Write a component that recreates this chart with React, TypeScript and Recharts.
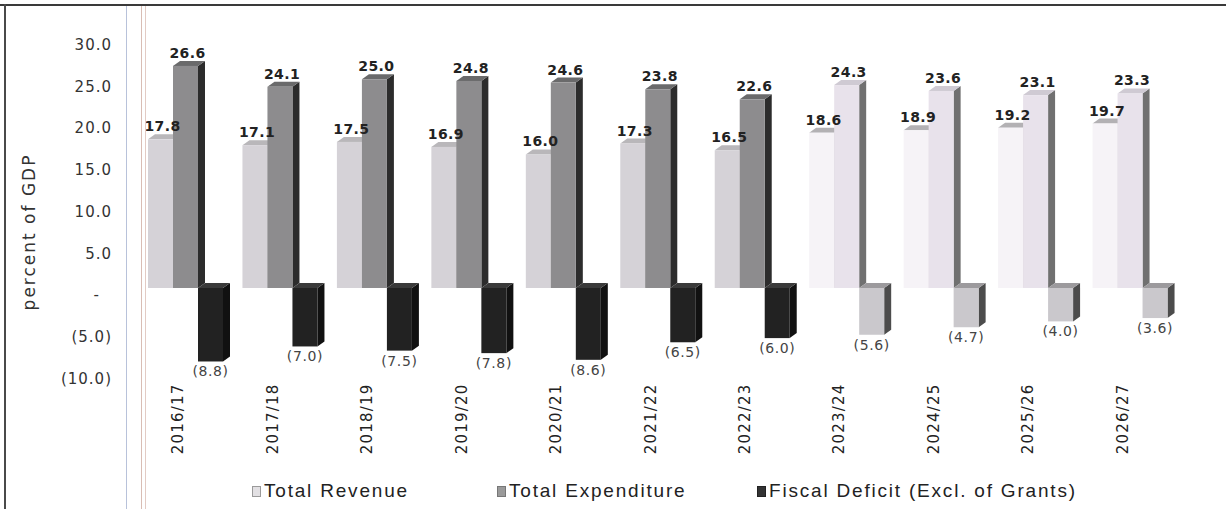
import React from 'react';
import { BarChart, Bar, XAxis, YAxis, LabelList } from 'recharts';

const years = ['2016/17', '2017/18', '2018/19', '2019/20', '2020/21', '2021/22', '2022/23', '2023/24', '2024/25', '2025/26', '2026/27'];
const totalRevenue = [17.8, 17.1, 17.5, 16.9, 16.0, 17.3, 16.5, 18.6, 18.9, 19.2, 19.7];
const totalExpenditure = [26.6, 24.1, 25.0, 24.8, 24.6, 23.8, 22.6, 24.3, 23.6, 23.1, 23.3];
const fiscalDeficit = [-8.8, -7.0, -7.5, -7.8, -8.6, -6.5, -6.0, -5.6, -4.7, -4.0, -3.6];
const projectedYears = ['2023/24', '2024/25', '2025/26', '2026/27'];
const yTicks = [-10, -5, 0, 5, 10, 15, 20, 25, 30];

const data = years.map((year, i) => ({
  year,
  revenue: totalRevenue[i],
  expenditure: totalExpenditure[i],
  deficit: fiscalDeficit[i],
  projected: projectedYears.includes(year),
}));

type Palette = { front: string; side: string; top: string };
const palettes: Record<string, { actual: Palette; projected: Palette }> = {
  revenue: {
    actual: { front: '#d5d2d7', side: '#a9a7aa', top: '#b9b7ba' },
    projected: { front: '#f6f3f7', side: '#c9c6ca', top: '#b3b1b4' },
  },
  expenditure: {
    actual: { front: '#8d8c8e', side: '#2c2c2c', top: '#6a6a6b' },
    projected: { front: '#e8e2eb', side: '#707070', top: '#cfcad3' },
  },
  deficit: {
    actual: { front: '#222222', side: '#111111', top: '#3a3a3a' },
    projected: { front: '#cac8cc', side: '#4c4c4c', top: '#9c9a9d' },
  },
};

const DX = 7;
const DY = 5;

const FONT = '"DejaVu Sans", Verdana, sans-serif';

function makeShape(series: string) {
  return (props: any) => {
    const { x, y, width, height, payload } = props;
    if (x == null || y == null) return null;
    const pal = payload && payload.projected ? palettes[series].projected : palettes[series].actual;
    const top = Math.min(y, y + height);
    const h = Math.abs(height);
    const right = x + width;
    return (
      <g>
        <polygon
          points={`${right},${top} ${right + DX},${top - DY} ${right + DX},${top + h - DY} ${right},${top + h}`}
          fill={pal.side}
        />
        <polygon
          points={`${x},${top} ${x + DX},${top - DY} ${right + DX},${top - DY} ${right},${top}`}
          fill={pal.top}
        />
        <rect x={x} y={top} width={width} height={h} fill={pal.front} />
      </g>
    );
  };
}

const fmt = (v: number) => (v === 0 ? '-' : v < 0 ? `(${Math.abs(v).toFixed(1)})` : v.toFixed(1));

const topLabel = (props: any) => {
  const vb = props.viewBox || props;
  const x = vb.x ?? props.x;
  const y = vb.y ?? props.y;
  const w = vb.width ?? props.width;
  const h = vb.height ?? props.height;
  const top = Math.min(y, y + h);
  return (
    <text
      x={x + w / 2 + 2}
      y={top - DY - 3}
      textAnchor="middle"
      fontFamily={FONT}
      fontWeight={700}
      fontSize={14}
      letterSpacing={0.4}
      fill="#222"
    >
      {fmt(Number(props.value))}
    </text>
  );
};

const bottomLabel = (props: any) => {
  const vb = props.viewBox || props;
  const x = vb.x ?? props.x;
  const y = vb.y ?? props.y;
  const w = vb.width ?? props.width;
  const h = vb.height ?? props.height;
  const bottom = Math.max(y, y + h);
  return (
    <text
      x={x + w / 2}
      y={bottom + 15}
      textAnchor="middle"
      fontFamily={FONT}
      fontSize={14}
      letterSpacing={0.6}
      fill="#444"
    >
      {fmt(Number(props.value))}
    </text>
  );
};

const YTick = (props: any) => {
  const { x, y, payload } = props;
  const v = payload.value as number;
  return (
    <text
      x={v === 0 ? x - 12 : x}
      y={y + 7}
      dy="0.355em"
      textAnchor="end"
      fontFamily={FONT}
      fontSize={15}
      letterSpacing={1}
      fill="#333"
    >
      {fmt(v)}
    </text>
  );
};

const XTick = (props: any) => {
  const { x, y, payload } = props;
  return (
    <text
      x={0}
      y={0}
      transform={`translate(${x - 2},${y + 12}) rotate(-90)`}
      textAnchor="end"
      fontFamily={FONT}
      fontSize={15}
      letterSpacing={1.2}
      fill="#222"
    >
      {payload.value}
    </text>
  );
};

const yLabel = (props: any) => {
  const cx = 35;
  const cy = 232;
  return (
    <text
      x={cx}
      y={cy}
      transform={`rotate(-90, ${cx}, ${cy})`}
      textAnchor="middle"
      fontFamily={FONT}
      fontSize={17}
      letterSpacing={2}
      fill="#333"
    >
      percent of GDP
    </text>
  );
};

const legendItems = [
  { label: 'Total Revenue', fill: '#e2e0e3', stroke: '#9a9a9a', left: 252 },
  { label: 'Total Expenditure', fill: '#9a9a9a', stroke: '#777', left: 497 },
  { label: 'Fiscal Deficit (Excl. of Grants)', fill: '#333', stroke: '#222', left: 757 },
];

export default function App() {
  return (
    <div style={{ position: 'absolute', left: 0, top: 0, width: 1226, height: 509, background: '#fff', overflow: 'hidden' }}>
      <BarChart
        width={1226}
        height={509}
        data={data}
        margin={{ top: 37.5, right: 49, bottom: 0, left: 0 }}
        barCategoryGap={9.7}
        barGap={0}
      >
        <YAxis
          type="number"
          domain={[-10, 30]}
          ticks={yTicks}
          width={138}
          axisLine={false}
          tickLine={false}
          tickSize={0}
          tickMargin={26}
          tick={<YTick />}
          interval={0}
          label={{ content: yLabel }}
        />
        <XAxis
          dataKey="year"
          height={137.5}
          axisLine={false}
          tickLine={false}
          tickSize={0}
          tickMargin={0}
          tick={<XTick />}
          interval={0}
        />
        <Bar dataKey="revenue" barSize={25} shape={makeShape('revenue')} isAnimationActive={false}>
          <LabelList dataKey="revenue" content={topLabel} />
        </Bar>
        <Bar dataKey="expenditure" barSize={25} shape={makeShape('expenditure')} isAnimationActive={false}>
          <LabelList dataKey="expenditure" content={topLabel} />
        </Bar>
        <Bar dataKey="deficit" barSize={25} shape={makeShape('deficit')} isAnimationActive={false}>
          <LabelList dataKey="deficit" content={bottomLabel} />
        </Bar>
      </BarChart>

      {legendItems.map((it) => (
        <div
          key={it.label}
          style={{ position: 'absolute', left: it.left, top: 479, height: 24, display: 'flex', alignItems: 'center' }}
        >
          <span
            style={{
              display: 'inline-block',
              width: 7,
              height: 9,
              background: it.fill,
              border: `1px solid ${it.stroke}`,
              marginRight: 3,
            }}
          />
          <span
            style={{
              fontFamily: '"Liberation Sans", Arial, sans-serif',
              fontSize: 19,
              letterSpacing: 1.8,
              color: '#222',
              whiteSpace: 'nowrap',
            }}
          >
            {it.label}
          </span>
        </div>
      ))}

      <div style={{ position: 'absolute', left: 0, top: 4, width: 1226, height: 2, background: '#3a3a3a' }} />
      <div style={{ position: 'absolute', left: 4, top: 4, width: 2, height: 505, background: '#4a4a4a' }} />
      <div style={{ position: 'absolute', left: 126, top: 6, width: 1, height: 503, background: '#b8c2da' }} />
      <div style={{ position: 'absolute', left: 141, top: 6, width: 1, height: 503, background: '#d9bdb4' }} />
      <div style={{ position: 'absolute', left: 145, top: 6, width: 1, height: 503, background: '#e2cbc4' }} />
    </div>
  );
}
